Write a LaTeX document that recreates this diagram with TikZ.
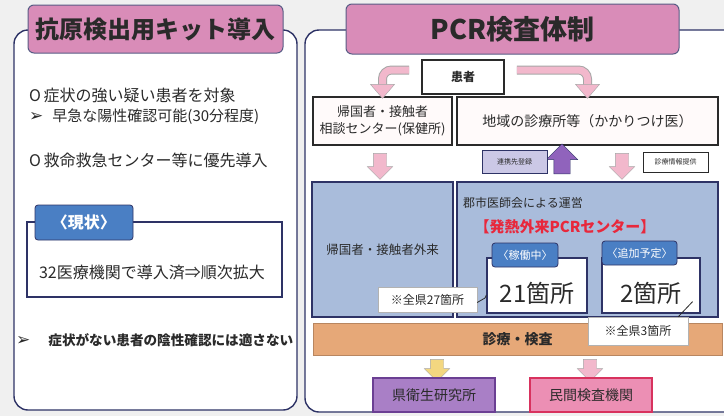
\documentclass[tikz,border=0pt]{standalone}
\usepackage{fontspec}
\setmainfont{Noto Sans CJK JP}
\newfontfamily\symfont{DejaVu Sans}
\usepackage{xcolor}
\usepackage{tikz}
\usetikzlibrary{shapes.arrows}
\definecolor{navy}{HTML}{2E3366}
\definecolor{ink}{HTML}{2A2A2A}
\definecolor{titlepink}{HTML}{D98CB8}
\definecolor{boxblue}{HTML}{A9BCDB}
\definecolor{tabblue}{HTML}{4A7FC4}
\definecolor{bandorange}{HTML}{E6A878}
\definecolor{arrowpink}{HTML}{F2B8CC}
\definecolor{arrowyellow}{HTML}{F3D780}
\definecolor{uppurple}{HTML}{9063BC}
\definecolor{linklav}{HTML}{CBC8E6}
\definecolor{labpurple}{HTML}{A97FC6}
\definecolor{labedge}{HTML}{6B3F93}
\definecolor{privpink}{HTML}{EC8FB4}
\definecolor{privedge}{HTML}{D8325E}
\definecolor{feverred}{HTML}{E8283C}
\tikzstyle{panel} = [draw=navy, line width=1.4pt, rounded corners=14pt, fill=white]
\tikzstyle{titlebox} = [draw=navy!80, fill=titlepink, line width=1pt, rounded corners=6pt, text=ink, inner sep=0pt, font=\bfseries\fontsize{24}{24}\selectfont]
\tikzstyle{tab} = [draw=navy, fill=tabblue, line width=0.8pt, rounded corners=3pt, text=white, inner sep=0pt]
\tikzstyle{plainbox} = [draw=ink, line width=1.2pt, fill=white, text=ink, inner sep=0pt]
\tikzstyle{bluebox} = [draw=navy, line width=1.2pt, fill=boxblue, text=ink, inner sep=0pt]
\tikzstyle{fat} = [single arrow, shape border rotate=270, draw=gray!70, fill=arrowpink, minimum height=26pt, inner sep=6.5pt, single arrow head extend=6pt]
\tikzstyle{note} = [anchor=west, text=ink, inner sep=0pt]
\newcommand{\tick}{{\symfont\fontsize{17}{17}\selectfont ➢}}

\begin{document}
\begin{tikzpicture}[x=1pt,y=-1pt]
	% Sheet:
	\fill [gray!12] (0,0) rectangle (724,416);
	\useasboundingbox (0,0) rectangle (724,416);

	% ---------- Left panel: antigen kits ----------
	\node [panel, minimum width=283pt, minimum height=380pt] (kitpanel) at (155.5,220) {};
	\node [titlebox, minimum width=255pt, minimum height=48pt] (kittitle) at (155.5,29) {抗原検出用キット導入};
	\node [note, font=\fontsize{16}{16}\selectfont] (kit1) at (29,95) {O\,症状の強い疑い患者を対象};
	\node [note, font=\fontsize{15}{15}\selectfont] (kit2) at (29,117) {\tick\hspace{9pt}早急な陽性確認可能(30分程度)};
	\node [note, font=\fontsize{16}{16}\selectfont] (kit3) at (29,160) {O\,救命救急センター等に優先導入};
	% The current state box with its tab:
	\node [draw=navy, line width=1.2pt, fill=white, minimum width=255pt, minimum height=75pt] (nowbox) at (154.5,259.5) {};
	\node [tab, minimum width=98pt, minimum height=35pt, font=\bfseries\fontsize{16}{16}\selectfont] (nowtab) at (84,222.5) {〈現状〉};
	\node [text=ink, font=\fontsize{16}{16}\selectfont] (nowtext) at (152,272) {32医療機関で導入済⇒順次拡大};
	\node [note, font=\bfseries\fontsize{13.6}{14}\selectfont] (kit4) at (16,340) {\tick\hspace{18pt}症状がない患者の陰性確認には適さない};

	% ---------- Right panel: PCR system ----------
	\node [panel, minimum width=435pt, minimum height=382pt] (pcrpanel) at (522.5,221) {};
	\node [titlebox, minimum width=333pt, minimum height=50pt, font=\bfseries\fontsize{27}{27}\selectfont] (pcrtitle) at (512.5,29) {PCR検査体制};

	\node [plainbox, line width=1.6pt, minimum width=82pt, minimum height=34pt, font=\bfseries\fontsize{12}{12}\selectfont] (pat) at (463,77) {患者};
	\node [plainbox, fill=pink!8, minimum width=139pt, minimum height=48pt, align=center, font=\fontsize{13}{17}\selectfont] (consult) at (382.5,121) {帰国者・接触者\\相談センター(保健所)};
	\node [plainbox, fill=pink!8, minimum width=261pt, minimum height=48pt, font=\fontsize{14}{14}\selectfont] (clinic) at (587.5,121) {地域の診療所等（かかりつけ医）};

	% Bent arrows out of the patient box:
	\coordinate (lstart) at ([xshift=-12pt,yshift=7pt]pat.west);
	\coordinate (rstart) at ([xshift=12pt,yshift=7pt]pat.east);
	\foreach \c/\w in {gray!70/9pt, arrowpink/7pt}{%
		\draw [\c, line width=\w, rounded corners=9pt] (lstart) -- (lstart -| consult.north) -- ([yshift=11pt]consult.north);
		\draw [\c, line width=\w, rounded corners=9pt] (rstart) -- (rstart -| clinic.north) -- ([yshift=11pt]clinic.north);
	}
	\filldraw [fill=arrowpink, draw=gray!70] ([xshift=-12pt,yshift=12pt]consult.north) -- ([xshift=12pt,yshift=12pt]consult.north) -- ([yshift=-2pt]consult.north) -- cycle;
	\filldraw [fill=arrowpink, draw=gray!70] ([xshift=-12pt,yshift=12pt]clinic.north) -- ([xshift=12pt,yshift=12pt]clinic.north) -- ([yshift=-2pt]clinic.north) -- cycle;

	% Arrows between the two rows:
	\node [fat] (down1) at (380,163) {};
	\node [fat, fill=uppurple, draw=navy, shape border rotate=90, minimum height=30pt, inner sep=8pt, single arrow head extend=7.5pt] (up1) at (562,163) {};
	\node [fat] (down2) at (622,163) {};
	\node [draw=navy, fill=linklav, minimum width=65pt, minimum height=23pt, inner sep=0pt, text=ink, font=\fontsize{7}{7}\selectfont] (link) at (514.5,161.5) {連携先登録};
	\node [draw=ink, fill=white, minimum width=65pt, minimum height=20pt, inner sep=0pt, text=ink, font=\fontsize{7}{7}\selectfont] (info) at (675.5,162) {診療情報提供};

	% Outpatient units:
	\node [bluebox, minimum width=141pt, minimum height=135pt, font=\fontsize{12.5}{12.5}\selectfont] (outpat) at (382.5,249.5) {帰国者・接触者外来};
	\node [bluebox, minimum width=261pt, minimum height=135pt] (fever) at (587.5,249.5) {};
	\node [note, font=\fontsize{12}{12}\selectfont] (gunshi) at (463,203) {郡市医師会による運営};
	\node [text=feverred, font=\bfseries\fontsize{15}{15}\selectfont] (fevername) at (565,227) {【発熱外来PCRセンター】};

	\node [draw=navy, line width=1.2pt, fill=white, minimum width=100pt, minimum height=55pt] (runbox) at (537,285.5) {};
	\node [tab, minimum width=66pt, minimum height=24pt, font=\fontsize{11}{11}\selectfont] (runtab) at (525,255) {〈稼働中〉};
	\node [text=ink, font=\fontsize{24}{24}\selectfont] (runnum) at (537,293) {21箇所};
	\node [draw=navy, line width=1.2pt, fill=white, minimum width=98pt, minimum height=55pt] (addbox) at (651,285.5) {};
	\node [tab, minimum width=75pt, minimum height=24pt, font=\fontsize{11}{11}\selectfont] (addtab) at (639.5,253) {〈追加予定〉};
	\node [text=ink, font=\fontsize{24}{24}\selectfont] (addnum) at (651,293) {2箇所};

	% Count notes:
	\node [draw=gray!60, fill=white, minimum width=99pt, minimum height=25pt, inner sep=0pt, text=ink, font=\fontsize{12}{12}\selectfont] (cw27) at (427.5,299.5) {※全県27箇所};
	\draw [ink, line width=0.8pt] ([yshift=-3pt]cw27.east) -- (485,298) -- (runbox.west |- 0,295);

	% Examination band and labs:
	\node [draw=bandorange!80!black, fill=bandorange, minimum width=409pt, minimum height=32pt, inner sep=0pt, text=ink, font=\bfseries\fontsize{14}{14}\selectfont] (exam) at (517.5,339) {診療・検査};
	\node [draw=gray!60, fill=white, minimum width=100pt, minimum height=28pt, inner sep=0pt, text=ink, font=\fontsize{12}{12}\selectfont] (cw3) at (638,331) {※全県3箇所};
	\draw [ink, line width=0.8pt] ([xshift=-10pt]cw3.north east) -- ([xshift=-8pt,yshift=12pt]addbox.south east);

	\node [fat, fill=arrowyellow, minimum height=22pt] (down3) at (437,367) {};
	\node [fat, minimum height=22pt] (down4) at (590,367) {};
	\node [draw=labedge, line width=1.4pt, fill=labpurple, minimum width=122pt, minimum height=34pt, inner sep=0pt, text=ink, font=\fontsize{14}{14}\selectfont] (lab) at (434,395) {県衛生研究所};
	\node [draw=privedge, line width=1.4pt, fill=privpink, minimum width=122pt, minimum height=34pt, inner sep=0pt, text=ink, font=\fontsize{14}{14}\selectfont] (priv) at (591,395) {民間検査機関};
\end{tikzpicture}
\end{document}
